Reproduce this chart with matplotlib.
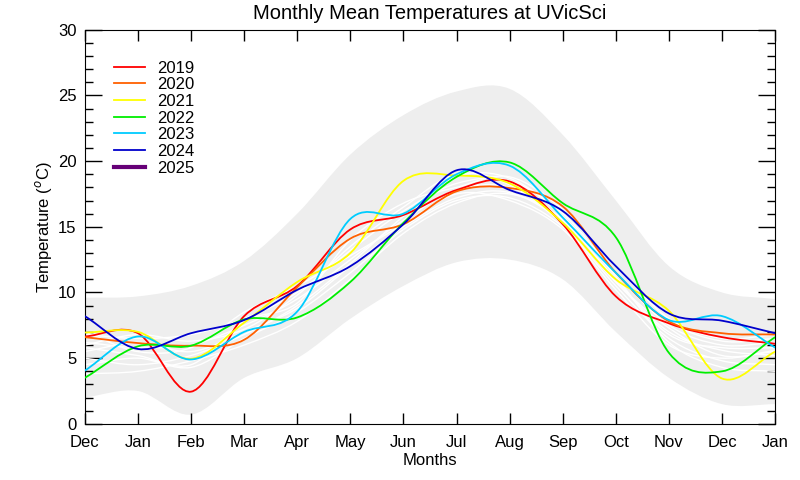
import numpy as np
import matplotlib
matplotlib.use('Agg')
import matplotlib.pyplot as plt
from matplotlib.path import Path
from matplotlib.patches import PathPatch
from matplotlib.ticker import MultipleLocator

plt.rcParams['font.family'] = ['Liberation Sans', 'DejaVu Sans']

# Month labels (Dec of previous year through Jan of next year)
months = ['Dec', 'Jan', 'Feb', 'Mar', 'Apr', 'May', 'Jun',
          'Jul', 'Aug', 'Sep', 'Oct', 'Nov', 'Dec', 'Jan']

# Envelope of all years (grey band)
band_hi = [9.6, 9.7, 10.5, 12.4, 16.0, 20.5, 23.5, 25.3, 25.5, 22.0, 17.0, 12.0, 10.0, 9.5]
band_lo = [2.0, 2.5, 0.7, 3.5, 5.0, 8.0, 10.5, 12.3, 12.5, 11.0, 7.0, 3.5, 1.5, 1.5]

# Older years (white lines)
old_years = [
    [5.5, 6.2, 5.5, 7.0, 8.8, 12.0, 15.0, 17.2, 17.6, 15.3, 10.8, 7.3, 5.2, 5.5],
    [6.2, 5.8, 6.0, 7.5, 9.5, 12.5, 15.5, 17.8, 18.0, 15.5, 11.0, 6.8, 5.8, 5.8],
    [4.5, 5.0, 4.3, 6.5, 8.5, 11.5, 14.8, 17.0, 17.2, 15.0, 10.5, 6.5, 4.8, 4.5],
    [6.8, 6.5, 6.8, 8.0, 10.0, 13.2, 16.2, 18.3, 18.5, 16.0, 11.5, 7.8, 6.3, 6.5],
    [5.0, 4.5, 5.2, 6.8, 9.0, 12.2, 15.8, 18.8, 18.7, 15.8, 11.2, 6.2, 4.3, 4.0],
    [6.0, 6.8, 6.3, 7.2, 9.8, 13.5, 16.5, 19.0, 18.2, 15.2, 10.8, 7.0, 5.6, 5.2],
    [3.8, 4.0, 4.8, 6.0, 7.8, 11.0, 14.5, 16.8, 17.5, 15.6, 11.4, 7.5, 6.0, 6.2],
    [7.0, 5.5, 5.8, 8.5, 10.5, 12.8, 15.2, 17.5, 17.0, 14.8, 10.2, 6.0, 5.0, 5.6],
    [5.8, 5.2, 4.5, 7.8, 9.2, 14.0, 16.8, 18.0, 18.8, 16.3, 12.0, 8.0, 6.5, 6.8],
]

years = ['2019', '2020', '2021', '2022', '2023', '2024']
colors = ['#ff0000', '#ff6000', '#ffff00', '#00ee00', '#00ccff', '#0000cc']
t2019 = [6.65, 6.9, 2.45, 8.2, 10.5, 14.8, 15.9, 17.8, 18.45, 15.2, 9.7, 7.65, 6.6, 6.1]
t2020 = [6.6, 6.15, 5.95, 6.4, 10.4, 14.1, 15.2, 17.7, 17.95, 16.55, 11.5, 7.8, 6.9, 6.8]
t2021 = [6.95, 7.0, 4.95, 7.7, 10.8, 13.0, 18.5, 18.9, 18.3, 15.3, 11.0, 8.6, 3.45, 5.5]
t2022 = [3.5, 5.9, 5.95, 7.95, 8.1, 10.8, 15.3, 18.8, 19.9, 16.8, 14.2, 5.4, 4.0, 6.6]
t2023 = [4.05, 6.65, 4.9, 7.0, 8.55, 15.6, 16.0, 19.0, 19.65, 15.7, 11.5, 7.9, 8.2, 5.8]
t2024 = [8.2, 5.7, 6.9, 7.9, 10.2, 12.0, 15.2, 19.3, 17.8, 16.2, 12.0, 8.4, 7.85, 6.9]
series = [t2019, t2020, t2021, t2022, t2023, t2024]


def smooth_path(x, y):
    # Catmull-Rom curve through the points, drawn as cubic Bezier segments
    x = np.asarray(x, float)
    y = np.asarray(y, float)
    p = np.column_stack([x, y])
    ext = np.vstack([2 * p[0] - p[1], p, 2 * p[-1] - p[-2]])
    verts = [p[0]]
    codes = [Path.MOVETO]
    for i in range(1, len(ext) - 2):
        c1 = ext[i] + (ext[i + 1] - ext[i - 1]) / 6
        c2 = ext[i + 1] - (ext[i + 2] - ext[i]) / 6
        verts += [c1, c2, ext[i + 1]]
        codes += [Path.CURVE4] * 3
    return verts, codes


fig = plt.figure(figsize=(8, 4.8), dpi=100)
ax = fig.add_axes([0.106, 0.117, 0.863, 0.821])
xs = np.arange(len(months))

# Grey envelope
v_hi, c_hi = smooth_path(xs, band_hi)
v_lo, c_lo = smooth_path(xs[::-1], band_lo[::-1])
c_lo[0] = Path.LINETO
verts = v_hi + v_lo + [v_hi[0]]
codes = c_hi + c_lo + [Path.CLOSEPOLY]
ax.add_patch(PathPatch(Path(verts, codes), facecolor='#eeeeee', edgecolor='none', zorder=1))

for yr in old_years:
    v, c = smooth_path(xs, yr)
    ax.add_patch(PathPatch(Path(v, c), facecolor='none', edgecolor='white', lw=1.0, zorder=2))

for s, col, lab in zip(series, colors, years):
    v, c = smooth_path(xs, s)
    ax.add_patch(PathPatch(Path(v, c), facecolor='none', edgecolor=col, lw=1.3, zorder=3))
    ax.plot([], [], color=col, lw=1.3, label=lab)
ax.plot([], [], color='#660077', lw=3, label='2025')

ax.set_xlim(0, 13)
ax.set_ylim(0, 30)
ax.set_xticks(xs)
ax.set_xticklabels(months, fontsize=12)
ax.yaxis.set_major_locator(MultipleLocator(5))
ax.yaxis.set_minor_locator(MultipleLocator(1))
ax.tick_params(axis='y', labelsize=12, pad=6)
ax.tick_params(axis='x', which='major', direction='in', top=True, length=8, width=1, pad=8)
ax.tick_params(axis='y', which='major', direction='in', right=True, length=12, width=1)
ax.tick_params(axis='y', which='minor', direction='in', right=True, length=6, width=1)
ax.set_xlabel('Months', fontsize=12, labelpad=2)
ax.set_ylabel('Temperature ($^o$C)', fontsize=12, labelpad=3)
ax.set_title('Monthly Mean Temperatures at UVicSci', fontsize=14.5, pad=8)

ax.legend(loc='upper left', bbox_to_anchor=(0.02, 0.96), frameon=False, fontsize=12,
          handlelength=1.9, handletextpad=0.7, labelspacing=0.1)

fig.savefig('out.png', dpi=100)
